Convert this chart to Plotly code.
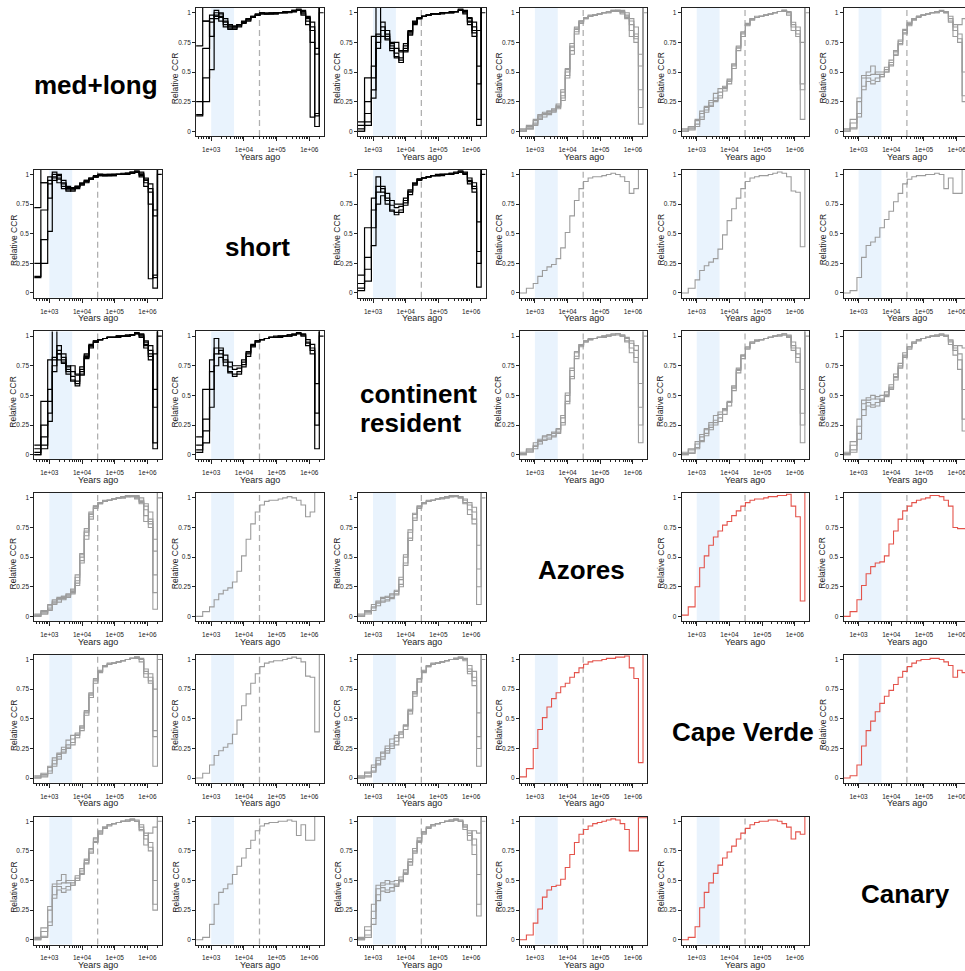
import plotly.graph_objects as go

# ---------------- data ----------------
# step boundaries (years ago) shared by every CCR curve
time_breaks = [250, 550, 890, 1230, 1700, 2340, 3230, 4460, 6150, 8490, 11700, 16200,
               22300, 30800, 42500, 58700, 81000, 112000, 154000, 212000, 293000,
               405000, 558000, 770000, 1063000, 1467000, 2025000, 2795000]

groups = ["med+long", "short", "continent\nresident", "Azores", "Cape Verde", "Canary"]

x_tick_vals = [1e3, 1e4, 1e5, 1e6]
x_tick_labels = ["1e+03", "1e+04", "1e+05", "1e+06"]
y_tick_vals = [0, 0.25, 0.5, 0.75, 1]
y_tick_labels = ["0", "0.25", "0.5", "0.75", "1"]
shade_years = [1000, 5000]
split_year = 30000

# med+long vs short (black)
ccr_medlong_short = [
    [0.13, 0.45, 0.95, 1.02, 0.97, 0.90, 0.87, 0.88, 0.90, 0.92, 0.94, 0.96, 0.98, 1.0, 0.99, 0.99, 0.99, 1.0, 1.0, 1.0, 1.01, 1.02, 1.0, 0.93, 0.85, 0.13, 1.3],
    [0.25, 0.70, 0.92, 0.98, 0.93, 0.88, 0.86, 0.87, 0.89, 0.92, 0.94, 0.96, 0.98, 0.99, 0.99, 0.99, 1.0, 1.0, 1.0, 1.01, 1.02, 1.02, 0.98, 0.90, 0.75, 0.04, 1.3],
    [1.20, 0.93, 0.80, 1.0, 0.99, 0.93, 0.89, 0.89, 0.90, 0.92, 0.95, 0.97, 0.98, 1.0, 1.0, 1.0, 1.0, 1.0, 1.01, 1.01, 1.02, 1.02, 0.99, 0.95, 0.88, 0.65, 1.0],
    [0.14, 0.25, 0.52, 0.95, 1.0, 0.95, 0.90, 0.86, 0.88, 0.91, 0.93, 0.96, 0.98, 0.99, 0.99, 0.99, 0.99, 1.0, 1.0, 1.01, 1.01, 1.02, 1.01, 0.96, 0.12, 0.15, 1.2],
    [0.72, 0.93, 0.98, 0.97, 0.96, 0.92, 0.88, 0.88, 0.90, 0.93, 0.95, 0.97, 0.99, 1.0, 0.99, 1.0, 1.0, 1.0, 1.0, 1.01, 1.01, 1.03, 1.02, 0.97, 0.92, 0.70, 1.05],
]
# med+long vs continent resident (black)
ccr_medlong_cont = [
    [0.00, 0.08, 0.45, 0.80, 0.88, 0.82, 0.72, 0.66, 0.62, 0.72, 0.84, 0.92, 0.96, 0.97, 0.98, 0.99, 0.99, 1.0, 1.0, 1.0, 1.01, 1.02, 1.0, 0.95, 0.88, 0.05, 1.3],
    [0.02, 0.15, 0.35, 0.75, 0.92, 0.85, 0.75, 0.70, 0.67, 0.74, 0.85, 0.93, 0.96, 0.97, 0.98, 0.99, 0.99, 1.0, 1.0, 1.01, 1.01, 1.02, 1.02, 0.93, 0.83, 0.40, 1.3],
    [0.05, 0.45, 0.80, 1.05, 0.85, 0.78, 0.68, 0.62, 0.58, 0.68, 0.82, 0.91, 0.95, 0.97, 0.98, 0.99, 0.99, 0.99, 1.0, 1.0, 1.01, 1.03, 1.01, 0.90, 0.80, 0.85, 1.2],
    [0.08, 0.25, 0.55, 0.82, 0.80, 0.77, 0.74, 0.75, 0.68, 0.70, 0.83, 0.92, 0.95, 0.97, 0.98, 0.99, 0.99, 1.0, 1.0, 1.0, 1.01, 1.02, 1.01, 0.96, 0.92, 0.10, 1.1],
    [0.00, 0.05, 0.28, 0.70, 0.85, 0.80, 0.70, 0.63, 0.60, 0.67, 0.81, 0.90, 0.95, 0.97, 0.98, 0.99, 0.99, 1.0, 1.0, 1.0, 1.01, 1.02, 0.99, 0.92, 0.85, 0.55, 1.0],
]
# short vs continent resident (black)
ccr_short_cont = [
    [0.02, 0.10, 0.40, 0.85, 0.88, 0.80, 0.74, 0.72, 0.73, 0.78, 0.86, 0.92, 0.96, 0.97, 0.98, 0.99, 0.99, 1.0, 1.0, 1.0, 1.01, 1.02, 1.01, 0.95, 0.90, 0.25, 1.2],
    [0.08, 0.30, 0.70, 0.98, 0.85, 0.78, 0.70, 0.68, 0.70, 0.76, 0.85, 0.92, 0.96, 0.97, 0.98, 0.99, 0.99, 1.0, 1.0, 1.01, 1.01, 1.02, 1.0, 0.92, 0.85, 0.05, 1.3],
    [0.15, 0.55, 0.80, 0.90, 0.90, 0.84, 0.78, 0.75, 0.75, 0.80, 0.87, 0.93, 0.96, 0.97, 0.98, 0.99, 1.0, 1.0, 1.0, 1.01, 1.02, 1.03, 1.02, 0.97, 0.93, 0.60, 1.1],
    [0.04, 0.20, 0.55, 0.75, 0.82, 0.75, 0.69, 0.66, 0.68, 0.74, 0.83, 0.91, 0.95, 0.97, 0.98, 0.99, 0.99, 0.99, 1.0, 1.0, 1.01, 1.02, 1.01, 0.94, 0.88, 0.35, 1.0],
]
# continental groups vs islands (grey)
ccr_medlong_azores = [
    [0.00, 0.02, 0.06, 0.11, 0.14, 0.15, 0.17, 0.20, 0.28, 0.47, 0.68, 0.84, 0.92, 0.95, 0.97, 0.98, 0.99, 1.0, 1.01, 1.02, 1.01, 0.99, 0.95, 0.85, 0.78, 0.35, 1.3],
    [0.01, 0.04, 0.09, 0.13, 0.16, 0.17, 0.18, 0.22, 0.33, 0.53, 0.74, 0.88, 0.93, 0.96, 0.97, 0.98, 0.99, 1.0, 1.01, 1.02, 1.02, 1.0, 0.97, 0.90, 0.80, 0.06, 1.2],
    [0.00, 0.03, 0.05, 0.10, 0.12, 0.14, 0.16, 0.19, 0.26, 0.45, 0.65, 0.82, 0.91, 0.95, 0.97, 0.98, 0.99, 1.0, 1.0, 1.01, 1.02, 1.01, 0.98, 0.93, 0.88, 0.55, 1.1],
    [0.02, 0.05, 0.10, 0.14, 0.15, 0.16, 0.18, 0.21, 0.30, 0.50, 0.71, 0.86, 0.93, 0.96, 0.97, 0.98, 0.99, 1.0, 1.01, 1.01, 1.02, 1.02, 1.0, 0.95, 0.75, 0.20, 1.0],
    [0.01, 0.02, 0.07, 0.12, 0.15, 0.17, 0.19, 0.23, 0.35, 0.52, 0.72, 0.87, 0.93, 0.96, 0.98, 0.98, 0.99, 1.0, 1.0, 1.01, 1.01, 1.0, 0.96, 0.80, 0.82, 0.65, 1.05],
]
ccr_medlong_capeverde = [
    [0.00, 0.02, 0.06, 0.12, 0.18, 0.22, 0.26, 0.30, 0.36, 0.42, 0.55, 0.70, 0.82, 0.90, 0.94, 0.96, 0.97, 0.98, 0.99, 1.0, 1.01, 1.02, 1.0, 0.88, 0.82, 0.10, 1.3],
    [0.01, 0.03, 0.09, 0.15, 0.20, 0.24, 0.28, 0.33, 0.38, 0.44, 0.57, 0.72, 0.84, 0.91, 0.95, 0.96, 0.97, 0.98, 0.99, 1.0, 1.01, 1.02, 1.01, 0.92, 0.85, 0.35, 1.2],
    [0.00, 0.01, 0.04, 0.10, 0.16, 0.21, 0.25, 0.28, 0.34, 0.40, 0.53, 0.68, 0.80, 0.89, 0.94, 0.96, 0.97, 0.98, 0.99, 1.0, 1.01, 1.01, 0.98, 0.85, 0.80, 0.75, 1.0],
    [0.02, 0.04, 0.10, 0.17, 0.21, 0.26, 0.32, 0.36, 0.37, 0.43, 0.56, 0.71, 0.83, 0.90, 0.95, 0.97, 0.97, 0.98, 0.99, 1.0, 1.01, 1.02, 1.0, 0.90, 0.88, 0.40, 1.1],
]
ccr_medlong_canary = [
    [0.00, 0.03, 0.15, 0.38, 0.45, 0.43, 0.45, 0.48, 0.52, 0.58, 0.67, 0.76, 0.85, 0.92, 0.95, 0.97, 0.98, 0.99, 1.0, 1.01, 1.01, 1.0, 0.93, 0.85, 0.78, 0.30, 1.2],
    [0.01, 0.07, 0.25, 0.45, 0.50, 0.55, 0.48, 0.46, 0.50, 0.56, 0.65, 0.74, 0.83, 0.90, 0.94, 0.97, 0.98, 0.99, 1.0, 1.0, 1.01, 1.01, 0.95, 0.88, 0.82, 0.50, 1.1],
    [0.00, 0.02, 0.12, 0.35, 0.42, 0.40, 0.42, 0.46, 0.50, 0.55, 0.64, 0.73, 0.82, 0.89, 0.94, 0.96, 0.98, 0.99, 1.0, 1.0, 1.01, 1.0, 0.92, 0.80, 0.90, 0.95, 1.0],
    [0.02, 0.10, 0.28, 0.47, 0.47, 0.48, 0.50, 0.50, 0.54, 0.60, 0.68, 0.77, 0.86, 0.91, 0.95, 0.97, 0.98, 0.99, 1.0, 1.01, 1.02, 1.0, 0.97, 0.90, 0.75, 0.25, 1.3],
]
ccr_cont_azores = [
    [0.00, 0.03, 0.07, 0.11, 0.13, 0.14, 0.16, 0.19, 0.27, 0.45, 0.66, 0.83, 0.92, 0.95, 0.97, 0.98, 0.99, 1.0, 1.0, 1.01, 1.02, 1.0, 0.96, 0.90, 0.82, 0.25, 1.2],
    [0.01, 0.05, 0.10, 0.13, 0.15, 0.16, 0.18, 0.21, 0.31, 0.50, 0.71, 0.86, 0.93, 0.96, 0.97, 0.98, 0.99, 1.0, 1.01, 1.02, 1.02, 1.01, 0.98, 0.94, 0.88, 0.60, 1.1],
    [0.00, 0.02, 0.05, 0.09, 0.12, 0.13, 0.15, 0.18, 0.25, 0.43, 0.64, 0.81, 0.91, 0.95, 0.97, 0.98, 0.99, 0.99, 1.0, 1.01, 1.01, 1.0, 0.95, 0.86, 0.78, 0.10, 1.3],
    [0.02, 0.04, 0.08, 0.12, 0.16, 0.17, 0.19, 0.22, 0.33, 0.52, 0.73, 0.87, 0.93, 0.96, 0.98, 0.98, 0.99, 1.0, 1.01, 1.01, 1.02, 1.01, 0.99, 0.96, 0.92, 0.40, 1.0],
]
ccr_cont_capeverde = [
    [0.00, 0.02, 0.06, 0.12, 0.18, 0.23, 0.27, 0.31, 0.37, 0.44, 0.57, 0.71, 0.83, 0.90, 0.94, 0.96, 0.97, 0.98, 0.99, 1.0, 1.01, 1.02, 1.0, 0.92, 0.85, 0.25, 1.2],
    [0.01, 0.04, 0.09, 0.15, 0.21, 0.25, 0.29, 0.34, 0.39, 0.45, 0.58, 0.73, 0.84, 0.91, 0.95, 0.96, 0.97, 0.98, 0.99, 1.0, 1.01, 1.01, 0.99, 0.88, 0.82, 0.10, 1.1],
    [0.00, 0.01, 0.05, 0.11, 0.16, 0.21, 0.25, 0.28, 0.34, 0.41, 0.54, 0.69, 0.81, 0.89, 0.94, 0.96, 0.97, 0.98, 0.99, 1.0, 1.0, 1.01, 1.0, 0.95, 0.90, 0.55, 1.0],
    [0.02, 0.05, 0.11, 0.17, 0.22, 0.27, 0.33, 0.36, 0.38, 0.44, 0.56, 0.72, 0.84, 0.90, 0.95, 0.97, 0.97, 0.98, 0.99, 1.0, 1.01, 1.02, 1.01, 0.90, 0.78, 0.35, 1.3],
]
ccr_cont_canary = [
    [0.00, 0.04, 0.18, 0.38, 0.44, 0.42, 0.44, 0.47, 0.51, 0.57, 0.66, 0.75, 0.84, 0.91, 0.95, 0.97, 0.98, 0.99, 1.0, 1.01, 1.01, 1.0, 0.95, 0.88, 0.80, 0.30, 1.2],
    [0.01, 0.08, 0.24, 0.43, 0.48, 0.50, 0.47, 0.46, 0.50, 0.56, 0.65, 0.74, 0.83, 0.90, 0.94, 0.97, 0.98, 0.99, 1.0, 1.0, 1.01, 1.01, 0.96, 0.90, 0.85, 0.55, 1.1],
    [0.00, 0.02, 0.13, 0.33, 0.41, 0.40, 0.41, 0.45, 0.49, 0.55, 0.63, 0.73, 0.82, 0.89, 0.94, 0.96, 0.98, 0.99, 1.0, 1.0, 1.01, 1.0, 0.93, 0.84, 0.92, 0.90, 1.0],
    [0.02, 0.11, 0.30, 0.46, 0.46, 0.47, 0.49, 0.50, 0.53, 0.59, 0.68, 0.77, 0.86, 0.91, 0.95, 0.97, 0.98, 0.99, 1.0, 1.01, 1.02, 1.0, 0.97, 0.92, 0.72, 0.20, 1.3],
]
ccr_short_azores = [[0.00, 0.04, 0.08, 0.14, 0.19, 0.22, 0.24, 0.29, 0.38, 0.51, 0.65, 0.78, 0.88, 0.94, 0.97, 0.98, 0.98, 0.99, 1.0, 1.01, 1.0, 0.98, 0.94, 0.84, 0.88, 1.3]]
ccr_short_capeverde = [[0.00, 0.04, 0.11, 0.19, 0.23, 0.26, 0.29, 0.37, 0.49, 0.61, 0.71, 0.80, 0.88, 0.94, 0.97, 0.98, 0.99, 0.99, 1.0, 1.01, 1.02, 1.01, 0.98, 0.86, 0.85, 0.39, 1.3]]
ccr_short_canary = [[0.00, 0.02, 0.13, 0.30, 0.40, 0.43, 0.47, 0.55, 0.62, 0.69, 0.77, 0.84, 0.92, 0.96, 0.98, 0.99, 0.99, 1.0, 1.0, 1.01, 1.0, 0.88, 0.97, 0.84, 0.84, 1.3]]
# island vs island (red)
ccr_azores_capeverde = [[0.01, 0.08, 0.25, 0.41, 0.51, 0.60, 0.67, 0.72, 0.77, 0.80, 0.85, 0.89, 0.93, 0.96, 0.98, 0.99, 0.99, 1.0, 1.01, 1.01, 1.02, 1.02, 1.03, 0.93, 0.84, 0.13, 1.3]]
ccr_azores_canary = [[0.00, 0.04, 0.14, 0.26, 0.36, 0.42, 0.45, 0.46, 0.51, 0.61, 0.72, 0.82, 0.89, 0.93, 0.96, 0.98, 0.99, 1.0, 1.02, 1.02, 1.01, 0.98, 0.93, 0.75, 0.74, 0.74, 0.74]]
ccr_canary_azores = [[0.00, 0.04, 0.14, 0.26, 0.36, 0.42, 0.45, 0.46, 0.51, 0.61, 0.72, 0.82, 0.89, 0.93, 0.96, 0.98, 0.99, 1.0, 1.01, 1.02, 1.01, 0.98, 0.93, 0.75, 0.75, 1.03, 1.03]]
ccr_capeverde_canary = [[0.00, 0.02, 0.11, 0.27, 0.40, 0.48, 0.56, 0.63, 0.69, 0.74, 0.79, 0.85, 0.90, 0.94, 0.97, 0.99, 1.0, 1.0, 1.01, 1.01, 1.0, 0.98, 0.95, 0.85, 0.91, 0.89, 1.3]]

BLACK, GREY, RED = "#000000", "#9c9c9c", "#e4534b"

panel_data = {
    (0, 1): (ccr_medlong_short, BLACK), (1, 0): (ccr_medlong_short, BLACK),
    (0, 2): (ccr_medlong_cont, BLACK), (2, 0): (ccr_medlong_cont, BLACK),
    (1, 2): (ccr_short_cont, BLACK), (2, 1): (ccr_short_cont, BLACK),
    (0, 3): (ccr_medlong_azores, GREY), (3, 0): (ccr_medlong_azores, GREY),
    (0, 4): (ccr_medlong_capeverde, GREY), (4, 0): (ccr_medlong_capeverde, GREY),
    (0, 5): (ccr_medlong_canary, GREY), (5, 0): (ccr_medlong_canary, GREY),
    (1, 3): (ccr_short_azores, GREY), (3, 1): (ccr_short_azores, GREY),
    (1, 4): (ccr_short_capeverde, GREY), (4, 1): (ccr_short_capeverde, GREY),
    (1, 5): (ccr_short_canary, GREY), (5, 1): (ccr_short_canary, GREY),
    (2, 3): (ccr_cont_azores, GREY), (3, 2): (ccr_cont_azores, GREY),
    (2, 4): (ccr_cont_capeverde, GREY), (4, 2): (ccr_cont_capeverde, GREY),
    (2, 5): (ccr_cont_canary, GREY), (5, 2): (ccr_cont_canary, GREY),
    (3, 4): (ccr_azores_capeverde, RED), (4, 3): (ccr_azores_capeverde, RED),
    (3, 5): (ccr_azores_canary, RED), (5, 3): (ccr_canary_azores, RED),
    (4, 5): (ccr_capeverde_canary, RED), (5, 4): (ccr_capeverde_canary, RED),
}

# ---------------- layout geometry ----------------
W, H = 965, 971
COL0, COL_PITCH, BOX_W = 34.3, 161.85, 127.5
ROW0, ROW_PITCH, BOX_H = 8.0, 161.7, 128.0
LOG_LEFT, PX_PER_DEC = 2.54, 32.7
FONT = "Liberation Sans, Arial, Helvetica, sans-serif"
INK = "#222222"

minor_vals = [m * 10 ** e for e in range(2, 7) for m in range(2, 10)]

fig = go.Figure()
layout = dict(width=W, height=H, margin=dict(l=0, r=0, t=0, b=0), autosize=False,
              paper_bgcolor="white", plot_bgcolor="white", showlegend=False,
              font=dict(family=FONT, color=INK))
shapes, annotations = [], []

k = 0
for r in range(6):
    for c in range(6):
        left = COL0 + c * COL_PITCH
        top = ROW0 + r * ROW_PITCH
        right = min(left + BOX_W, W)
        bottom = top + BOX_H
        if r == c:
            name = groups[r]
            cx = left + BOX_W / 2 - 2
            cy = top + BOX_H / 2 + 13
            if "\n" in name:
                for i, part in enumerate(name.split("\n")):
                    annotations.append(dict(text=part, x=left / W, y=1 - (cy - 14.5 + 29 * i) / H,
                                            xref="paper", yref="paper", xanchor="left", yanchor="middle",
                                            showarrow=False, font=dict(size=26, family=FONT, color="black", weight="bold")))
            else:
                annotations.append(dict(text=name, x=cx / W, y=1 - cy / H, xref="paper", yref="paper",
                                        xanchor="center", yanchor="middle", showarrow=False,
                                        font=dict(size=26, family=FONT, color="black", weight="bold")))
            continue
        k += 1
        xa = "x" if k == 1 else f"x{k}"
        ya = "y" if k == 1 else f"y{k}"
        xkey = "xaxis" if k == 1 else f"xaxis{k}"
        ykey = "yaxis" if k == 1 else f"yaxis{k}"
        log_right = LOG_LEFT + (right - left) / PX_PER_DEC
        layout[xkey] = dict(type="log", domain=[left / W, right / W], range=[LOG_LEFT, log_right],
                            anchor=ya, showline=True, linecolor=INK, linewidth=1, mirror=True,
                            ticks="outside", ticklen=4, tickwidth=1, tickcolor=INK,
                            tickvals=x_tick_vals, ticktext=x_tick_labels,
                            tickfont=dict(size=6.5, family=FONT, color=INK), ticklabelstandoff=3,
                            ticklabeloverflow="allow",
                            minor=dict(ticks="outside", ticklen=2, tickwidth=0.8, tickcolor=INK,
                                       tickvals=minor_vals, showgrid=False),
                            showgrid=False, zeroline=False, fixedrange=True)
        layout[ykey] = dict(domain=[1 - bottom / H, 1 - top / H], range=[-0.04, 1.04],
                            anchor=xa, showline=True, linecolor=INK, linewidth=1,
                            mirror=(c != 5), ticks="outside", ticklen=3, tickwidth=1, tickcolor=INK,
                            tickvals=y_tick_vals, ticktext=y_tick_labels,
                            tickfont=dict(size=6.5, family=FONT, color=INK),
                            showgrid=False, zeroline=False, fixedrange=True)
        shapes.append(dict(type="rect", xref=xa, yref=f"{ya} domain", x0=shade_years[0], x1=shade_years[1],
                           y0=0, y1=1, fillcolor="#e9f3fd", line=dict(width=0), layer="below"))
        shapes.append(dict(type="line", xref=xa, yref=f"{ya} domain", x0=split_year, x1=split_year,
                           y0=0, y1=1, line=dict(color="#b0b0b0", width=1.3, dash="6px,4px"), layer="below"))
        annotations.append(dict(text="Relative CCR", x=(left - 21) / W, y=1 - (top + 70) / H,
                                xref="paper", yref="paper", xanchor="center", yanchor="middle",
                                textangle=-90, showarrow=False, font=dict(size=8.5, family=FONT, color=INK)))
        annotations.append(dict(text="Years ago", x=(left + BOX_W / 2) / W, y=1 - (bottom + 20.5) / H,
                                xref="paper", yref="paper", xanchor="center", yanchor="middle",
                                showarrow=False, font=dict(size=9, family=FONT, color=INK)))
        lines, color = panel_data[(r, c)]
        width = 1.2 if color == BLACK else 1.1
        for vals in lines:
            xs = time_breaks[:len(vals) + 1]
            ys = list(vals) + [vals[-1]]
            fig.add_trace(go.Scatter(x=xs, y=ys, mode="lines", xaxis=xa, yaxis=ya,
                                     line=dict(shape="hv", width=width, color=color),
                                     hoverinfo="skip", showlegend=False))

layout["shapes"] = shapes
layout["annotations"] = annotations
fig.update_layout(**layout)
fig.write_html("out.html", config={"displayModeBar": False},
               post_script="document.body.style.margin='0';document.body.style.padding='0';"
                           "document.body.style.overflow='hidden';")
